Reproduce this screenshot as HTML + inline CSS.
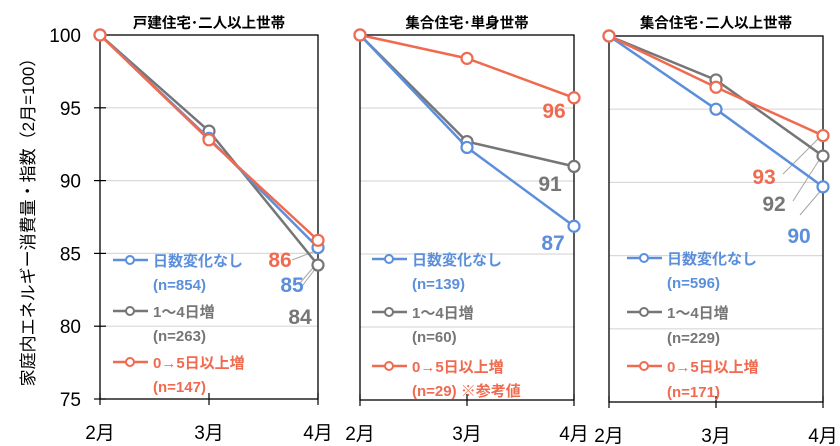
<!DOCTYPE html>
<html><head><meta charset="utf-8"><style>
body{margin:0;background:#fff;}
svg{display:block;font-family:"Liberation Sans","Noto Sans CJK JP",sans-serif;}
</style></head><body>
<svg id="c" width="840" height="446"></svg>
<script>
const months=["2月","3月","4月"];
const yTicks=[75,80,85,90,95,100];
const panelTitles=["戸建住宅･二人以上世帯","集合住宅･単身世帯","集合住宅･二人以上世帯"];
const blueVals=[[100,92.9,85.4],[100,92.3,86.9],[100,95.0,89.7]];
const grayVals=[[100,93.4,84.2],[100,92.7,91.0],[100,97.0,91.8]];
const redVals=[[100,92.8,85.9],[100,98.4,95.7],[100,96.5,93.2]];
const blueLabels=["85","87","90"];
const grayLabels=["84","91","92"];
const redLabels=["86","96","93"];
const blueN=["(n=854)","(n=139)","(n=596)"];
const grayN=["(n=263)","(n=60)","(n=229)"];
const redN=["(n=147)","(n=29) ※参考値","(n=171)"];

const NS="http://www.w3.org/2000/svg";
const svg=document.getElementById('c');
function mk(t,a,p){const e=document.createElementNS(NS,t);for(const k in a)e.setAttribute(k,a[k]);(p||svg).appendChild(e);return e;}
const C={b:"#5b8fdb",g:"#767676",r:"#f06a50"};
const panels=[{x0:100,x1:318,top:35,bot:399},{x0:360,x1:574,top:35,bot:400},{x0:609,x1:823,top:36,bot:402}];
const lab=[
 [{v:redLabels,c:C.r,x:280,y:267,lx:[292,260,318,250]},{v:blueLabels,c:C.b,x:292,y:292,lx:[300,283,318,262]},{v:grayLabels,c:C.g,x:300,y:324,lx:[300,289,318,265]}],
 [{v:redLabels,c:C.r,x:554,y:118},{v:grayLabels,c:C.g,x:550,y:191},{v:blueLabels,c:C.b,x:553,y:250}],
 [{v:redLabels,c:C.r,x:764,y:184,lx:[783,174,823,134]},{v:grayLabels,c:C.g,x:774,y:211,lx:[793,201,823,154]},{v:blueLabels,c:C.b,x:799,y:243,lx:[800,215,823,188]}]
];
const legX=[[113,153],[372,411],[627,667]];
const legY=[[260,284,311,335,362,386],[259,283,312,336,366,390],[258,282,312,337,366,391]];

const p0=panels[0];
function yOf(p,v){return p.bot-(v-75)/25*(p.bot-p.top);}
yTicks.forEach(v=>{
 const t=mk('text',{x:81,y:yOf(p0,v)+7,'text-anchor':'end','font-size':19,fill:'#000'});t.textContent=v;
 
});
const yt=mk('text',{transform:'translate(34,218) rotate(-90)','text-anchor':'middle','font-size':17,fill:'#000'});
yt.textContent="家庭内エネルギー消費量・指数（2月=100）";


panels.forEach((p,i)=>{
 const g=mk('g',{});
 
 const xOf=k=>p.x0+k*(p.x1-p.x0)/2;
 const y=v=>yOf(p,v);
 yTicks.forEach(v=>{if(v>75&&v<100)mk('line',{x1:p.x0,x2:p.x1,y1:y(v),y2:y(v),stroke:'#d9d9d9','stroke-width':1.2},g);});
 if(i==0)yTicks.forEach(v=>mk('line',{x1:p.x0-6,x2:p.x0+6,y1:y(v),y2:y(v),stroke:'#000','stroke-width':1.2},g));
 mk('rect',{x:p.x0,y:p.top,width:p.x1-p.x0,height:p.bot-p.top,fill:'none',stroke:'#000','stroke-width':1.3},g);
 months.forEach((m,k)=>{
  mk('line',{x1:xOf(k),x2:xOf(k),y1:p.bot-6,y2:p.bot+6,stroke:'#000','stroke-width':1.2},g);
  const t=mk('text',{x:xOf(k),y:p.bot+40,'text-anchor':'middle','font-size':19,fill:'#000'},g);t.textContent=m;
  
 });
 const tt=mk('text',{x:(p.x0+p.x1)/2,y:28,'text-anchor':'middle','font-size':14.5,'font-weight':'bold',fill:'#000'},g);
 tt.textContent=panelTitles[i];
 const L=legX[i],Y=legY[i];
 [[C.b,"日数変化なし",blueN[i]],[C.g,"1～4日増",grayN[i]],[C.r,"0→5日以上増",redN[i]]].forEach((s,j)=>{
  const lg=mk('g',{},g);
  mk('line',{x1:L[0],x2:L[0]+35,y1:Y[j*2],y2:Y[j*2],stroke:s[0],'stroke-width':2.5},lg);
  mk('circle',{cx:L[0]+17,cy:Y[j*2],r:4,fill:'#fff',stroke:s[0],'stroke-width':2},lg);
  const a=mk('text',{x:L[0]+40,y:Y[j*2]+6,'font-size':15,'font-weight':'bold',fill:s[0]},lg);a.textContent=s[1];
  const b=mk('text',{x:L[0]+40,y:Y[j*2+1]+6,'font-size':15,'font-weight':'bold',fill:s[0]},lg);b.textContent=s[2];
 });
 lab[i].forEach(l=>{if(l.lx)mk('polyline',{points:l.lx.join(' '),fill:'none',stroke:'#a6a6a6','stroke-width':1},g);});
 [[grayVals,C.g,'gray'],[blueVals,C.b,'blue'],[redVals,C.r,'red']].forEach(s=>{
  const vals=s[0][i];
  const pl=mk('polyline',{points:vals.map((v,k)=>xOf(k)+','+y(v)).join(' '),fill:'none',stroke:s[1],'stroke-width':2.5},g);
  
  vals.forEach((v,k)=>{
   const c=mk('circle',{cx:xOf(k),cy:y(v),r:5.5,fill:'#fff',stroke:s[1],'stroke-width':2.2},g);
   
  });
 });
 lab[i].forEach(l=>{
  const t=mk('text',{x:l.x,y:l.y,'text-anchor':'middle','font-size':21,'font-weight':'bold',fill:l.c},g);
  t.textContent=l.v[i];
 });
});
</script>
</body></html>
